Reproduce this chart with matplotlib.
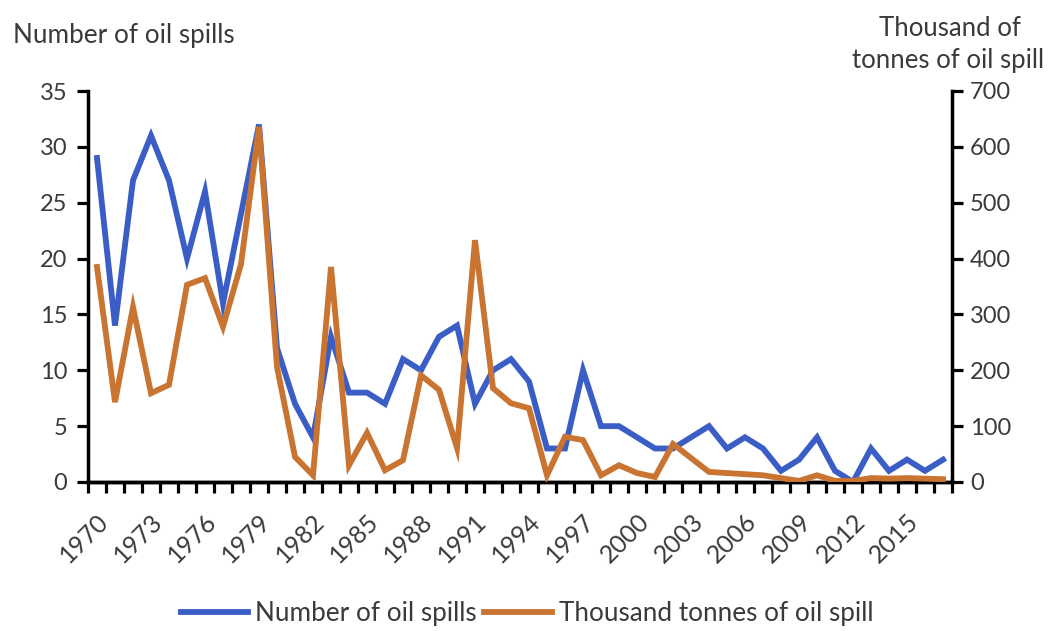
import matplotlib
matplotlib.use("Agg")
import matplotlib.pyplot as plt
import numpy as np
from matplotlib.lines import Line2D

plt.rcParams['font.family'] = ['Lato', 'DejaVu Sans']

years = list(range(1970, 2018))
spills = [29, 14, 27, 31, 27, 20, 26, 16, 24, 32,
          12, 7, 4, 13, 8, 8, 7, 11, 10, 13,
          14, 7, 10, 11, 9, 3, 3, 10, 5, 5,
          4, 3, 3, 4, 5, 3, 4, 3, 1, 2,
          4, 1, 0, 3, 1, 2, 1, 2]
tonnes = [385, 143, 313, 159, 174, 353, 365, 278, 390, 636,
          206, 45, 12, 385, 30, 88, 21, 39, 191, 165,
          61, 433, 168, 141, 132, 12, 81, 75, 12, 30,
          16, 9, 68, 43, 18, 16, 14, 12, 7, 2,
          12, 2, 2, 7, 6, 7, 6, 5]
tick_years = [str(y) for y in years[::3]]

blue = "#3A5EC6"
orange = "#C97431"
txt = "#3A3A3A"
W, H = 1050, 631

fig = plt.figure(figsize=(W/100, H/100), dpi=100)
ax = fig.add_axes([88/W, 1-482/H, (952-88)/W, (482-91)/H])
ax2 = ax.twinx()

x = np.arange(len(years))
ax.plot(x, spills, color=blue, lw=4.2, solid_joinstyle='miter', zorder=3)
ax2.plot(x, tonnes, color=orange, lw=4.2, solid_joinstyle='miter', zorder=3)

ax.set_xlim(-0.5, len(years) - 0.5)
ax.set_ylim(0, 35)
ax2.set_ylim(0, 700)
ax.set_yticks(range(0, 36, 5))
ax2.set_yticks(range(0, 701, 100))

ax.set_xticks(x[::3])
ax.set_xticklabels(tick_years, rotation=45, ha='right', rotation_mode='anchor')
ax.set_xticks(np.arange(-0.5, len(years), 1), minor=True)
ax.tick_params(axis='x', which='major', length=0, pad=20, labelsize=18, labelcolor=txt)
ax.tick_params(axis='x', which='minor', length=8, width=2.3, direction='out')
ax.tick_params(axis='y', length=8, width=2.3, labelsize=17, labelcolor=txt, pad=7)
ax2.tick_params(axis='y', length=8, width=2.3, labelsize=17, labelcolor=txt, pad=5)

for a in (ax, ax2):
    a.spines['top'].set_visible(False)
    a.spines['left'].set_linewidth(2.5)
    a.spines['right'].set_linewidth(2.5)
    a.spines['bottom'].set_linewidth(2.5)
ax.spines['right'].set_visible(False)
ax2.spines['left'].set_visible(False)

fig.text(13/W, 1-43/H, "Number of oil spills", fontsize=18.8, color=txt, va='baseline', ha='left')
fig.text(950/W, 1-36/H, "Thousand of", fontsize=18.5, color=txt, va='baseline', ha='center')
fig.text(948/W, 1-68/H, "tonnes of oil spill", fontsize=18.5, color=txt, va='baseline', ha='center')

handles = [Line2D([], [], color=blue, lw=4.2), Line2D([], [], color=orange, lw=4.2)]
fig.legend(handles, ["Number of oil spills", "Thousand tonnes of oil spill"],
           loc='center', bbox_to_anchor=(527/W, 1-614/H), ncol=2, frameon=False,
           fontsize=18.8, labelcolor=txt, handlelength=2.6, columnspacing=0.3,
           handletextpad=0.25, borderpad=0.1)

fig.savefig("out.png", dpi=100)
